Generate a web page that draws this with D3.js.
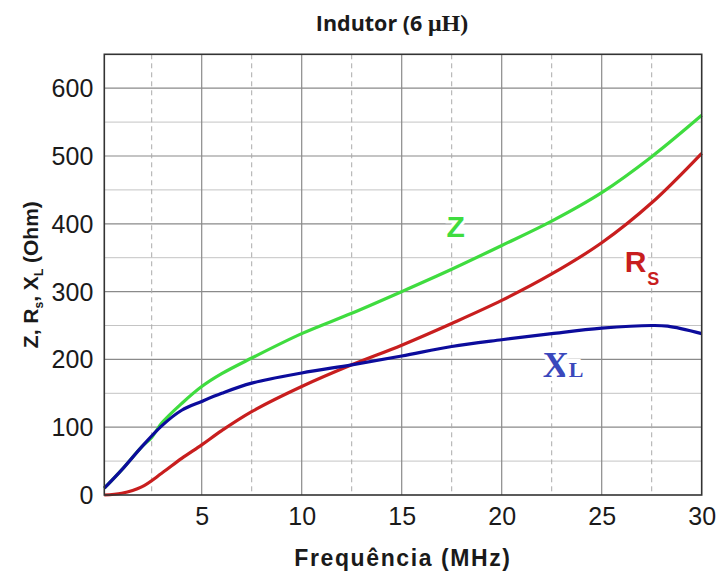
<!DOCTYPE html>
<html>
<head>
<meta charset="utf-8">
<script src="https://cdn.jsdelivr.net/npm/d3@7/dist/d3.min.js"></script>
<style>
  body { margin: 0; background: #fff; }
  svg { display: block; }
</style>
</head>
<body>
<svg id="chart" width="716" height="575"></svg>
<script>
// ---- data (frequency in MHz, values in Ohm) ----
const freqZ  = [0.13, 1, 2, 2.5, 3, 4, 5, 6, 7.5, 10, 12.5, 15, 17.5, 20, 22.5, 25, 27.5, 30];
const valZ   = [10, 37, 71, 85, 106, 135, 160, 179, 202, 238, 268, 300, 333, 368, 404, 446, 499, 560];
const freqRs = [0.13, 1, 2, 3, 4, 5, 6, 7.5, 10, 12.5, 15, 17.5, 20, 22.5, 25, 27.5, 30];
const valRs  = [0, 2.5, 12, 32, 54, 74, 95, 123, 160, 192, 221, 253, 287, 326, 372, 431, 504];
const freqXL = [0.13, 1, 2, 3, 4, 5, 6, 7.5, 10, 12.5, 15, 17.5, 20, 22.5, 25, 27.5, 28.3, 30];
const valXL  = [10, 37, 71, 102, 125, 138, 150, 165, 180, 192, 205, 219, 229, 238, 246, 250, 249, 238];

const xTicks = [5, 10, 15, 20, 25, 30];
const xMinorTicks = [2.5, 7.5, 12.5, 17.5, 22.5, 27.5];
const yTicks = [0, 100, 200, 300, 400, 500, 600];
const yMinorTicks = [50, 150, 250, 350, 450, 550];

const title = "Indutor (6 ";
const titleUnit = "μH)";
const xTitle = "Frequência (MHz)";

// ---- layout ----
const svg = d3.select("#chart");
const pL = 104.3, pR = 701.7, pT = 54.3, pB = 495;
const x = d3.scaleLinear().domain([0.13, 30]).range([pL, pR]);
const y = d3.scaleLinear().domain([0, 650]).range([pB, pT]);

// grid
const g = svg.append("g");
g.selectAll(".hmin").data(yMinorTicks).join("line")
  .attr("x1", pL).attr("x2", pR)
  .attr("y1", d => y(d)).attr("y2", d => y(d))
  .attr("stroke", "#c4c4c4").attr("stroke-width", 1);
g.selectAll(".hmaj").data(yTicks.filter(d => d > 0)).join("line")
  .attr("x1", pL).attr("x2", pR)
  .attr("y1", d => y(d)).attr("y2", d => y(d))
  .attr("stroke", "#8a8a8a").attr("stroke-width", 1.2);
g.selectAll(".vmin").data(xMinorTicks).join("line")
  .attr("x1", d => x(d)).attr("x2", d => x(d))
  .attr("y1", pT).attr("y2", pB)
  .attr("stroke", "#aaaaaa").attr("stroke-width", 1)
  .attr("stroke-dasharray", "5,4");
g.selectAll(".vmaj").data(xTicks.filter(d => d < 30)).join("line")
  .attr("x1", d => x(d)).attr("x2", d => x(d))
  .attr("y1", pT).attr("y2", pB)
  .attr("stroke", "#8a8a8a").attr("stroke-width", 1.2);

// axes
const xAxis = d3.axisBottom(x).tickValues(xTicks).tickSize(0).tickPadding(12);
const yAxis = d3.axisLeft(y).tickValues(yTicks).tickSize(0).tickPadding(11);
const gx = svg.append("g").attr("transform", `translate(0,${pB})`).call(xAxis);
const gy = svg.append("g").attr("transform", `translate(${pL},0)`).call(yAxis);
[gx, gy].forEach(a => {
  a.select(".domain").remove();
  a.selectAll("text").attr("font-family", "Liberation Sans, Arial, sans-serif")
    .attr("font-size", 25).attr("fill", "#1a1a1a");
});
gx.selectAll("text").attr("dy", "0.71em").attr("y", 12);
gy.selectAll("text").attr("dy", "0.34em");

// curves
const line = d3.line().x(d => x(d[0])).y(d => y(d[1])).curve(d3.curveCatmullRom.alpha(0.5));
const series = [
  {f: freqRs, v: valRs, color: "#c81e1e"},
  {f: freqZ,  v: valZ,  color: "#3fdc3f"},
  {f: freqXL, v: valXL, color: "#0c0c9c"}
];
series.forEach(s => {
  svg.append("path")
    .attr("d", line(d3.zip(s.f, s.v)))
    .attr("fill", "none").attr("stroke", s.color)
    .attr("stroke-width", 3.2).attr("stroke-linejoin", "round");
});

// frame
svg.append("rect").attr("x", pL).attr("y", pT)
  .attr("width", pR - pL).attr("height", pB - pT)
  .attr("fill", "none").attr("stroke", "#333").attr("stroke-width", 1.6);

// in-plot labels
svg.append("text").attr("x", x(17.7)).attr("y", y(380))
  .attr("text-anchor", "middle")
  .attr("font-family", "Liberation Sans, Arial, sans-serif").attr("font-weight", "bold")
  .attr("font-size", 30).attr("fill", "#3fdc3f")
  .attr("stroke", "#fff").attr("stroke-width", 6).attr("paint-order", "stroke")
  .text("Z");

const lr = svg.append("text").attr("x", x(26.15)).attr("y", y(329))
  .attr("font-family", "Liberation Sans, Arial, sans-serif").attr("font-weight", "bold")
  .attr("fill", "#c81e1e")
  .attr("stroke", "#fff").attr("stroke-width", 6).attr("paint-order", "stroke");
lr.append("tspan").attr("font-size", 30).text("R");
lr.append("tspan").attr("font-size", 18).attr("dy", 13).attr("dx", 1).text("S");

const lx = svg.append("text").attr("x", x(22.05)).attr("y", y(174))
  .attr("font-family", "Liberation Serif, Times New Roman, serif").attr("font-weight", "bold")
  .attr("fill", "#3a48bc")
  .attr("stroke", "#fff").attr("stroke-width", 8).attr("paint-order", "stroke");
lx.append("tspan").attr("font-size", 36).text("X");
lx.append("tspan").attr("font-size", 22).text("L");

// titles
const t = svg.append("text").attr("x", 392).attr("y", 31)
  .attr("text-anchor", "middle").attr("fill", "#1a1a1a")
  .attr("font-family", "Open Sans, sans-serif").attr("font-weight", "bold").attr("font-size", 21.5);
t.append("tspan").text(title);
t.append("tspan").attr("font-family", "Liberation Serif, serif").attr("font-size", 24).text(titleUnit);

svg.append("text").attr("x", (pL + pR) / 2).attr("y", 566)
  .attr("text-anchor", "middle").attr("fill", "#1a1a1a")
  .attr("font-family", "Liberation Sans, Arial, sans-serif").attr("font-weight", "bold")
  .attr("font-size", 23).attr("letter-spacing", 1.6)
  .text(xTitle);

const yl = svg.append("text")
  .attr("transform", `translate(38,${(pT + pB) / 2}) rotate(-90)`)
  .attr("text-anchor", "middle").attr("fill", "#1a1a1a")
  .attr("font-family", "Liberation Sans, Arial, sans-serif").attr("font-weight", "bold")
  .attr("font-size", 21);
yl.append("tspan").text("Z, R");
yl.append("tspan").attr("font-size", 12).attr("dy", 5).text("s");
yl.append("tspan").attr("dy", -5).text(", X");
yl.append("tspan").attr("font-size", 12).attr("dy", 5).text("L");
yl.append("tspan").attr("dy", -5).text(" (Ohm)");
</script>
</body>
</html>
